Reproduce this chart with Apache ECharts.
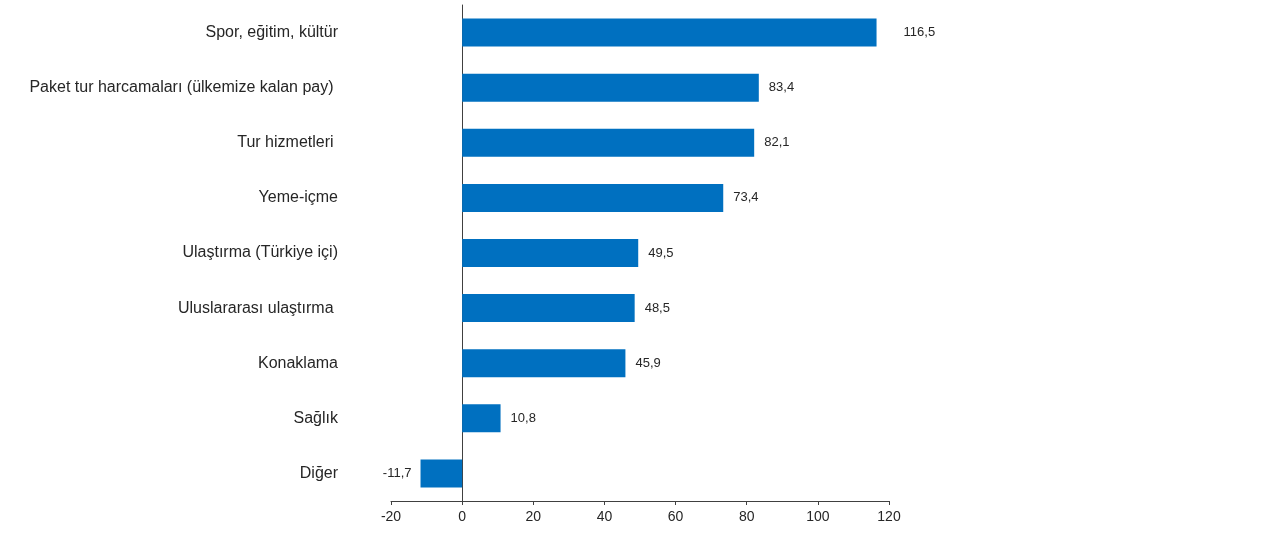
<!DOCTYPE html>
<html>
<head>
<meta charset="utf-8">
<script src="https://cdn.jsdelivr.net/npm/echarts@6/dist/echarts.min.js"></script>
<style>
html,body{margin:0;padding:0;background:#fff;}
#c{width:1280px;height:539px;}
</style>
</head>
<body>
<div id="c"></div>
<script>
const categories = [
  'Spor, eğitim, kültür',
  'Paket tur harcamaları (ülkemize kalan pay) ',
  'Tur hizmetleri ',
  'Yeme-içme',
  'Ulaştırma (Türkiye içi)',
  'Uluslararası ulaştırma ',
  'Konaklama',
  'Sağlık',
  'Diğer'
];
const values = [116.5, 83.4, 82.1, 73.4, 49.5, 48.5, 45.9, 10.8, -11.7];
const xTicks = { min: -20, max: 120, interval: 20 };

const fmt = v => String(v).replace('.', ',');
const txt = '#262626';

const seriesData = values.map((v, i) => {
  const item = { value: v };
  if (v < 0) item.label = { position: 'left', distance: 9 };
  else if (i === 0) item.label = { distance: 27 };
  return item;
});

const chart = echarts.init(document.getElementById('c'));
chart.setOption({
  animation: false,
  backgroundColor: '#ffffff',
  grid: { left: 391, right: 391, top: 5, height: 496, containLabel: false, outerBoundsMode: 'none' },
  xAxis: {
    type: 'value',
    min: xTicks.min, max: xTicks.max, interval: xTicks.interval,
    splitLine: { show: false },
    axisLine: { show: true, lineStyle: { color: '#404040', width: 1 } },
    axisTick: { show: true, length: 4, lineStyle: { color: '#404040' } },
    axisLabel: { color: txt, fontSize: 14, fontFamily: 'Liberation Sans, Arial, sans-serif', margin: 9 }
  },
  yAxis: {
    type: 'category',
    data: categories,
    inverse: true,
    axisLine: { show: true, onZero: true, lineStyle: { color: '#404040', width: 1 } },
    axisTick: { show: false },
    axisLabel: { color: txt, fontSize: 16, fontFamily: 'Liberation Sans, Arial, sans-serif', margin: 53 }
  },
  series: [{
    type: 'bar',
    data: seriesData,
    barWidth: 28,
    itemStyle: { color: '#0070C0' },
    label: {
      show: true,
      position: 'right',
      distance: 10,
      color: txt,
      fontSize: 13,
      fontFamily: 'Liberation Sans, Arial, sans-serif',
      formatter: p => fmt(p.value)
    }
  }]
});
</script>
</body>
</html>
